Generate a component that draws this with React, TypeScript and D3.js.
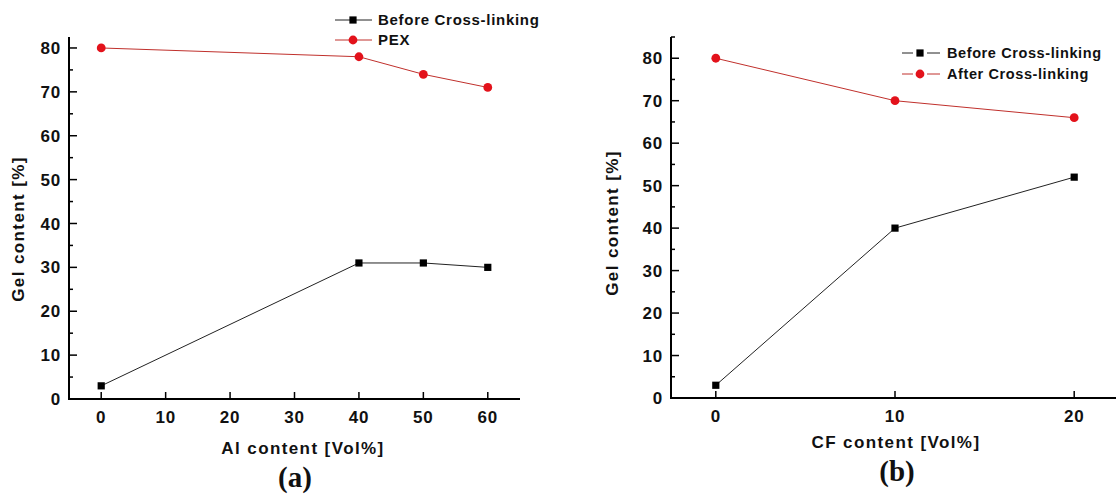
import React from 'react';
import * as d3 from 'd3';

// ---------- data ----------
const alContent = [0, 40, 50, 60];
const alBefore = [3, 31, 31, 30];
const alPEX = [80, 78, 74, 71];

const cfContent = [0, 10, 20];
const cfBefore = [3, 40, 52];
const cfAfter = [80, 70, 66];

const alXTicks = [0, 10, 20, 30, 40, 50, 60];
const cfXTicks = [0, 10, 20];
const yMajorTicks = [0, 10, 20, 30, 40, 50, 60, 70, 80];
const yMinorTicksA = [5, 15, 25, 35, 45, 55, 65, 75];
const yMinorTicksB = [5, 15, 25, 35, 45, 55, 65, 75, 85];

const SANS = '"Liberation Sans", Arial, sans-serif';
const SERIF = '"Liberation Serif", "Times New Roman", serif';
const RED_MARK = '#e3121b';
const RED_LINE = '#c0302c';
const BLACK_LINE = '#222';

type Series = { xs: number[]; ys: number[]; kind: 'square' | 'circle' };

function Marker({ kind, x, y }: { kind: 'square' | 'circle'; x: number; y: number }) {
  if (kind === 'square') return <rect x={x - 3.6} y={y - 3.6} width={7.2} height={7.2} fill="#000" />;
  return <circle cx={x} cy={y} r={4.4} fill={RED_MARK} />;
}

type PanelProps = {
  xDomain: [number, number];
  xRange: [number, number];
  yDomain: [number, number];
  yRange: [number, number];
  xTicks: number[];
  yMinor: number[];
  series: Series[];
  xTitle: string;
  xTitlePos: [number, number];
  yTitlePos: [number, number];
  tag: string;
  tagPos: [number, number];
};

function Panel(p: PanelProps) {
  const x = d3.scaleLinear().domain(p.xDomain).range(p.xRange);
  const y = d3.scaleLinear().domain(p.yDomain).range(p.yRange);
  const x0 = p.xRange[0];
  const y0 = p.yRange[0];
  const lineGen = (s: Series) =>
    d3
      .line<number>()
      .x((_, i) => x(s.xs[i]))
      .y((d) => y(d))(s.ys) as string;
  return (
    <g>
      {p.series.map((s, k) => (
        <path key={'l' + k} d={lineGen(s)} fill="none" stroke={s.kind === 'circle' ? RED_LINE : BLACK_LINE} strokeWidth={1} />
      ))}
      {p.series.map((s, k) =>
        s.ys.map((v, i) => <Marker key={'m' + k + '-' + i} kind={s.kind} x={x(s.xs[i])} y={y(v)} />)
      )}
      {/* axes */}
      <line x1={x0} x2={x0} y1={p.yRange[1]} y2={y0 + 1} stroke="#000" strokeWidth={2} />
      <line x1={x0 - 1} x2={p.xRange[1]} y1={y0} y2={y0} stroke="#000" strokeWidth={2} />
      {yMajorTicks.map((t) => (
        <g key={'ym' + t}>
          {t !== 0 && <line x1={x0} x2={x0 + 8} y1={y(t)} y2={y(t)} stroke="#000" strokeWidth={1.5} />}
          <text x={x0 - 8} y={y(t)} dy="0.36em" textAnchor="end" fontFamily={SANS} fontWeight="bold" fontSize={17} letterSpacing={0.8} fill="#111">
            {t}
          </text>
        </g>
      ))}
      {p.yMinor.map((t) => (
        <line key={'yn' + t} x1={x0} x2={x0 + 4} y1={y(t)} y2={y(t)} stroke="#000" strokeWidth={1.5} />
      ))}
      {p.xTicks.map((t) => (
        <g key={'xt' + t}>
          <line x1={x(t)} x2={x(t)} y1={y0} y2={y0 - 7} stroke="#000" strokeWidth={1.5} />
          <text x={x(t)} y={y0 + 24} textAnchor="middle" fontFamily={SANS} fontWeight="bold" fontSize={17} letterSpacing={0.8} fill="#111">
            {t}
          </text>
        </g>
      ))}
      <text x={p.xTitlePos[0]} y={p.xTitlePos[1]} textAnchor="middle" fontFamily={SANS} fontWeight="bold" fontSize={17} letterSpacing={1.4} fill="#111">
        {p.xTitle}
      </text>
      <text
        transform={`translate(${p.yTitlePos[0]},${p.yTitlePos[1]}) rotate(-90)`}
        textAnchor="middle"
        dy="0.36em"
        fontFamily={SANS}
        fontWeight="bold"
        fontSize={17}
        letterSpacing={1.4}
        fill="#111"
      >
        Gel content [%]
      </text>
      <text x={p.tagPos[0]} y={p.tagPos[1]} textAnchor="middle" fontFamily={SERIF} fontWeight="bold" fontSize={29} fill="#111">
        {p.tag}
      </text>
    </g>
  );
}

export default function App() {
  return (
    <svg width={1116} height={498} style={{ position: 'absolute', left: 0, top: 0, background: '#fff' }}>
      <rect width={1116} height={498} fill="#fff" />
      <Panel
        xDomain={[-5, 65]}
        xRange={[69, 520]}
        yDomain={[0, 82.5]}
        yRange={[399, 37]}
        xTicks={alXTicks}
        yMinor={yMinorTicksA}
        series={[
          { xs: alContent, ys: alBefore, kind: 'square' },
          { xs: alContent, ys: alPEX, kind: 'circle' },
        ]}
        xTitle="Al content [Vol%]"
        xTitlePos={[303, 454]}
        yTitlePos={[18, 229]}
        tag="(a)"
        tagPos={[295, 487]}
      />
      <Panel
        xDomain={[-2.5, 22.5]}
        xRange={[671, 1119]}
        yDomain={[0, 85]}
        yRange={[398, 37]}
        xTicks={cfXTicks}
        yMinor={yMinorTicksB}
        series={[
          { xs: cfContent, ys: cfBefore, kind: 'square' },
          { xs: cfContent, ys: cfAfter, kind: 'circle' },
        ]}
        xTitle="CF content [Vol%]"
        xTitlePos={[896, 448]}
        yTitlePos={[612, 223]}
        tag="(b)"
        tagPos={[897, 481]}
      />
      {/* legend (a) */}
      <g fontFamily={SANS} fontWeight="bold" fill="#111">
        <line x1={335} x2={372} y1={20} y2={20} stroke={BLACK_LINE} strokeWidth={1} />
        <Marker kind="square" x={353} y={20} />
        <text x={378} y={20} dy="0.36em" fontSize={15} letterSpacing={0.7}>Before Cross-linking</text>
        <line x1={335} x2={372} y1={40} y2={40} stroke={RED_LINE} strokeWidth={1} />
        <Marker kind="circle" x={353} y={40} />
        <text x={378} y={40} dy="0.36em" fontSize={15} letterSpacing={0.7}>PEX</text>
      </g>
      {/* legend (b) */}
      <g fontFamily={SANS} fontWeight="bold" fill="#111">
        <line x1={902} x2={913} y1={53} y2={53} stroke={BLACK_LINE} strokeWidth={1} />
        <line x1={927} x2={940} y1={53} y2={53} stroke={BLACK_LINE} strokeWidth={1} />
        <Marker kind="square" x={920} y={53} />
        <text x={947} y={53} dy="0.36em" fontSize={14.5} letterSpacing={0.6}>Before Cross-linking</text>
        <line x1={902} x2={913} y1={74} y2={74} stroke={RED_LINE} strokeWidth={1} />
        <line x1={927} x2={940} y1={74} y2={74} stroke={RED_LINE} strokeWidth={1} />
        <Marker kind="circle" x={920} y={74} />
        <text x={947} y={74} dy="0.36em" fontSize={14.5} letterSpacing={0.6}>After Cross-linking</text>
      </g>
    </svg>
  );
}
